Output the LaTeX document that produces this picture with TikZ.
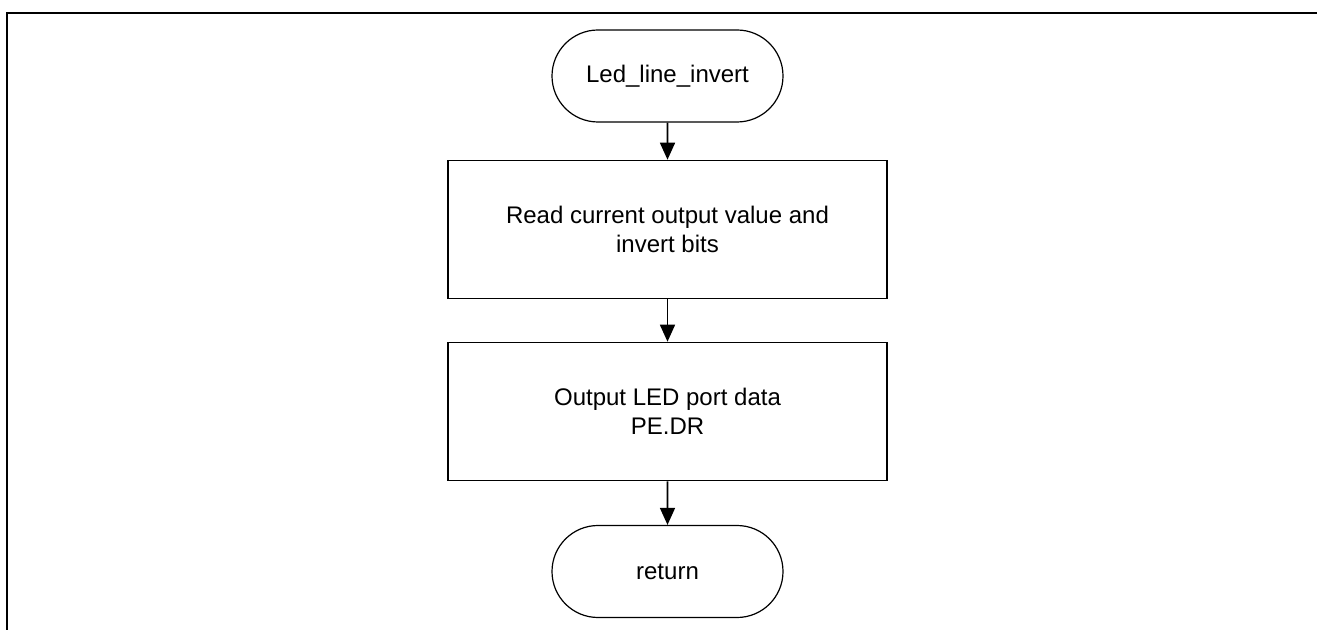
\documentclass[tikz,border=0pt]{standalone}
\usepackage{fontspec}
\setmainfont{Liberation Sans}
\usetikzlibrary{arrows.meta, shapes.misc}

\begin{document}
\begin{tikzpicture}[x=0.5pt, y=-0.5pt, >={Triangle[length=8.5pt, width=7.5pt]},
  terminal/.style={draw, line width=0.6pt, rounded rectangle, inner sep=0pt,
    minimum width=115.5pt, minimum height=46pt, font=\fontsize{12}{14.5}\selectfont},
  process/.style={draw, line width=0.8pt, rectangle, inner sep=0pt, align=center,
    minimum width=219.5pt, minimum height=69pt, font=\fontsize{12}{14.5}\selectfont},
  flow/.style={->, line width=0.8pt}]

\useasboundingbox (0, 0) rectangle (1317, 630);

% --- Frame ---
\draw[line width=1.1pt] (7, 630) -- (7, 13) -- (1317, 13);

% --- Steps ---
\node[terminal] (start) at (667.5, 76) {Led\_line\_invert};
\node[process] (readval) at (667.5, 229.5)
  {Read current output value and\\invert bits};
\node[process] (outport) at (667.5, 411.5)
  {Output LED port data\\PE.DR};
\node[terminal] (ret) at (667.5, 571.5) {return};

% --- Connectors ---
\draw[flow] (start) -- (readval);
\draw[flow] (readval) -- (outport);
\draw[flow] (outport) -- (ret);

\end{tikzpicture}
\end{document}
